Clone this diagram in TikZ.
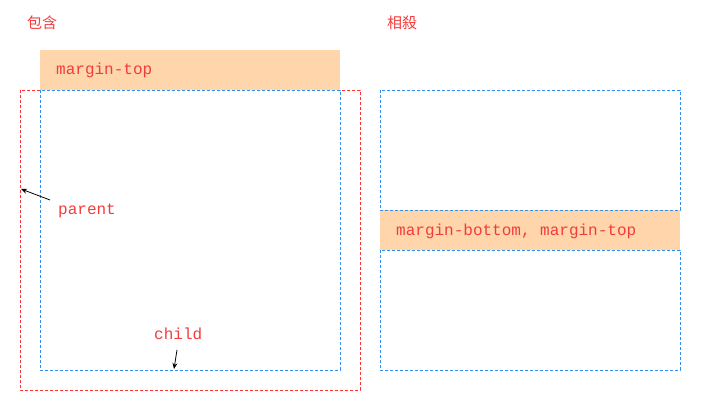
\documentclass[tikz,border=0pt]{standalone}
\usepackage{fontspec}
\setmonofont{Liberation Mono}
\newfontfamily\cjk{Noto Sans CJK SC}
\usetikzlibrary{arrows.meta}
\definecolor{tred}{HTML}{F23C3C}
\definecolor{bred}{HTML}{FF3333}
\definecolor{bblue}{HTML}{2E8FF0}
\definecolor{morange}{HTML}{FFD5AB}
\tikzset{
  lbl/.style={inner sep=0pt, anchor=base west, text=tred, font=\ttfamily\fontsize{16}{18}\selectfont},
  title/.style={inner sep=0pt, anchor=base west, text=tred, font=\cjk\fontsize{15}{17}\selectfont},
  redbox/.style={draw=bred, dash pattern=on 3pt off 2pt, line width=0.8pt},
  bluebox/.style={draw=bblue, dash pattern=on 3pt off 2pt, line width=0.8pt},
  marg/.style={fill=morange, draw=none},
  pointer/.style={draw=black, line width=0.8pt, -{Stealth[length=6pt,width=5pt]}}
}
\begin{document}
\begin{tikzpicture}[x=1pt,y=-1pt]
\useasboundingbox (0,0) rectangle (701,411);
% titles
\node[title] (t1) at (27,29) {包含};
\node[title] (t2) at (387,29) {相殺};
% left: containing
\fill[marg] (40,50) rectangle (340,90);
\node[lbl] (mt) at (56,75) {margin-top};
\draw[redbox] (20,90) rectangle (360,390);
\draw[bluebox] (40,90) rectangle (340,370);
\node[lbl] (pl) at (58,215) {parent};
\node[lbl] (cl) at (154,339) {child};
\coordinate (pe) at (21,189);
\coordinate (ps) at (50,200);
\coordinate (ce) at (174,369);
\coordinate (cs) at (177,350);
\draw[pointer] (ps) -- (pe);
\draw[pointer] (cs) -- (ce);
% right: collapsing
\fill[marg] (380,210) rectangle (680,250);
\draw[bluebox] (380,90) rectangle (680,210);
\draw[bluebox] (380,250) rectangle (680,370);
\node[lbl] (mbt) at (396,236) {margin-bottom, margin-top};
\end{tikzpicture}
\end{document}
